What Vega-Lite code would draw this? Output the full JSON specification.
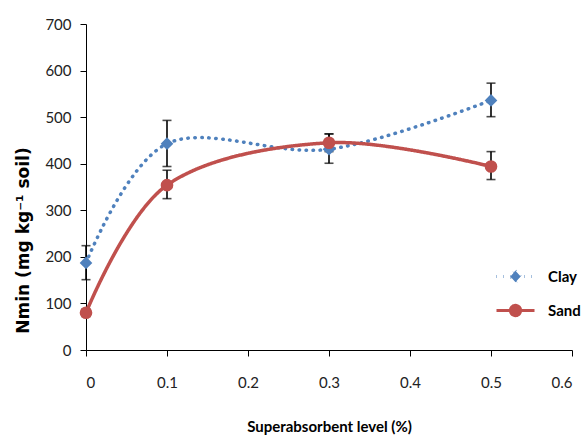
{
  "$schema": "https://vega.github.io/schema/vega-lite/v6.json",
  "width": 486,
  "height": 326,
  "autosize": "none",
  "padding": {"left": 86, "top": 24, "right": 15, "bottom": 85},
  "background": "white",
  "config": {
    "view": {"stroke": null},
    "font": "Lato",
    "axis": {
      "grid": false,
      "domainColor": "#000",
      "domainWidth": 1,
      "tickColor": "#000",
      "tickSize": 6,
      "labelFont": "Lato",
      "labelFontSize": 15,
      "labelColor": "#222",
      "titleColor": "#000",
      "titleFontWeight": "bold"
    },
    "axisX": {"labelPadding": 19, "titlePadding": 29, "titleFontSize": 15, "titleFont": "Lato"},
    "axisY": {"labelPadding": 9, "titlePadding": 12, "titleFontSize": 17, "titleFont": "DejaVu Sans"}
  },
  "data": {
    "values": [
      {"series": "Clay", "level": 0, "nmin": 187, "lo": 151, "hi": 224},
      {"series": "Clay", "level": 0.1, "nmin": 443, "lo": 394, "hi": 493},
      {"series": "Clay", "level": 0.3, "nmin": 431, "lo": 401, "hi": 464},
      {"series": "Clay", "level": 0.5, "nmin": 536, "lo": 501, "hi": 573},
      {"series": "Sand", "level": 0, "nmin": 80, "lo": 72, "hi": 88},
      {"series": "Sand", "level": 0.1, "nmin": 354, "lo": 325, "hi": 386},
      {"series": "Sand", "level": 0.3, "nmin": 445, "lo": 426, "hi": 464},
      {"series": "Sand", "level": 0.5, "nmin": 394, "lo": 366, "hi": 426}
    ]
  },
  "encoding": {
    "x": {
      "field": "level",
      "type": "quantitative",
      "title": "Superabsorbent level (%)",
      "scale": {"domain": [0, 0.6], "nice": false, "zero": false},
      "axis": {"values": [0, 0.1, 0.2, 0.3, 0.4, 0.5, 0.6], "format": "~g"}
    }
  },
  "layer": [
    {
      "mark": {"type": "rule", "color": "#000", "strokeWidth": 1.6},
      "encoding": {
        "y": {"field": "lo", "type": "quantitative", "title": "Nmin (mg kg⁻¹ soil)",
              "scale": {"domain": [0, 700], "nice": false},
              "axis": {"values": [0, 100, 200, 300, 400, 500, 600, 700], "titleY": 216, "titleAnchor": null}},
        "y2": {"field": "hi"}
      }
    },
    {
      "mark": {"type": "tick", "color": "#000", "thickness": 1.6, "size": 9, "orient": "horizontal"},
      "encoding": {"y": {"field": "lo", "type": "quantitative", "title": "Nmin (mg kg⁻¹ soil)"}}
    },
    {
      "mark": {"type": "tick", "color": "#000", "thickness": 1.6, "size": 9, "orient": "horizontal"},
      "encoding": {"y": {"field": "hi", "type": "quantitative", "title": "Nmin (mg kg⁻¹ soil)"}}
    },
    {
      "mark": {"type": "line", "interpolate": "cardinal", "strokeCap": "round", "strokeWidth": 3.5},
      "encoding": {
        "y": {"field": "nmin", "type": "quantitative", "title": "Nmin (mg kg⁻¹ soil)"},
        "color": {
          "field": "series", "type": "nominal",
          "scale": {"domain": ["Clay", "Sand"], "range": ["#4f81bd", "#c0504d"]},
          "legend": {
            "orient": "none", "legendX": 409, "legendY": 232, "title": null,
            "symbolSize": 1444, "labelOffset": 12, "labelFontSize": 15,
            "labelFontWeight": "bold", "labelColor": "#000", "labelFont": "Lato",
            "rowPadding": 1, "padding": 0, "symbolStrokeWidth": 3,
            "encode": {
              "symbols": {
                "update": {
                  "shape": {"signal": "datum.value === 'Clay' ? 'M-1,0H1M0,-0.3L0.27,0L0,0.3L-0.27,0Z' : 'M-1,0H1M-0.27,0A0.27,0.27 0 1,0 0.27,0A0.27,0.27 0 1,0 -0.27,0Z'"},
                  "fill": {"signal": "datum.value === 'Clay' ? '#4f81bd' : '#c0504d'"},
                  "fillOpacity": {"value": 1},
                  "opacity": {"value": 1}
                }
              }
            }
          }
        },
        "strokeDash": {
          "field": "series", "type": "nominal",
          "scale": {"domain": ["Clay", "Sand"], "range": [[0.5, 6.5], [1, 0]]},
          "legend": {
            "orient": "none", "legendX": 409, "legendY": 232, "title": null,
            "symbolSize": 1444, "labelOffset": 12, "labelFontSize": 15,
            "labelFontWeight": "bold", "labelColor": "#000", "labelFont": "Lato",
            "rowPadding": 1, "padding": 0, "symbolStrokeWidth": 3
          }
        }
      }
    },
    {
      "transform": [{"filter": "datum.series === 'Clay'"}],
      "mark": {"type": "point", "filled": true, "opacity": 1, "size": 160, "shape": "diamond", "color": "#4f81bd"},
      "encoding": {
        "y": {"field": "nmin", "type": "quantitative", "title": "Nmin (mg kg⁻¹ soil)"}
      }
    },
    {
      "transform": [{"filter": "datum.series === 'Sand'"}],
      "mark": {"type": "point", "filled": true, "opacity": 1, "size": 160, "shape": "circle", "color": "#c0504d"},
      "encoding": {
        "y": {"field": "nmin", "type": "quantitative", "title": "Nmin (mg kg⁻¹ soil)"}
      }
    }
  ]
}
